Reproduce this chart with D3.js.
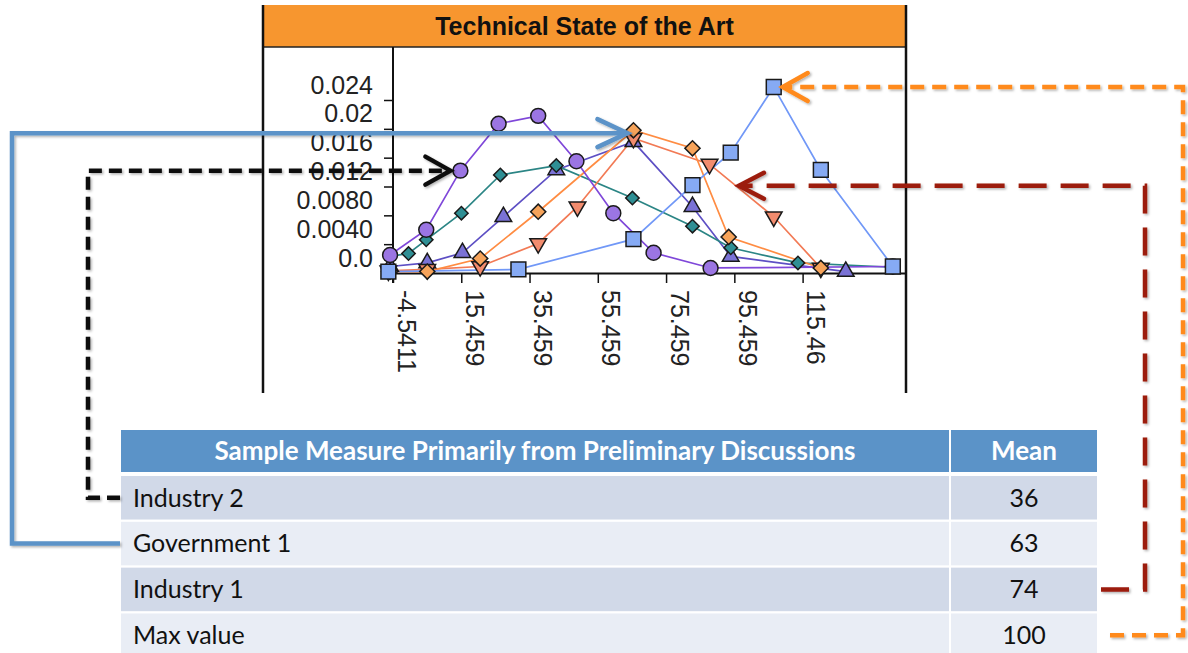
<!DOCTYPE html>
<html>
<head>
<meta charset="utf-8">
<script src="https://cdn.jsdelivr.net/npm/d3@7"></script>
<style>
  body { margin: 0; background: #fff; }
  svg { display: block; }
</style>
</head>
<body>
<div id="chart"></div>
<script>
// ---- values ----
const chartTitle = "Technical State of the Art";
const xTickValues = [-4.5411, 15.459, 35.459, 55.459, 75.459, 95.459, 115.46];
const xTickLabels = ["-4.5411", "15.459", "35.459", "55.459", "75.459", "95.459", "115.46"];
const yTickValues = [0, 0.004, 0.008, 0.012, 0.016, 0.02, 0.024];
const yTickLabels = ["0.0", "0.0040", "0.0080", "0.012", "0.016", "0.02", "0.024"];

// purple circles
const circleX = [-5.4, 5.2, 15.2, 26.4, 38.0, 49.2, 60.0, 71.8, 88.5, 141.9];
const circleY = [0.0025, 0.0060, 0.0142, 0.0207, 0.0218, 0.0155, 0.0083, 0.0028, 0.0007, 0.0009];
// teal diamonds
const tealX = [-5.4, 0.0, 5.2, 15.5, 26.9, 43.3, 65.6, 83.2, 94.4, 114.1, 141.9];
const tealY = [0.0023, 0.0027, 0.0046, 0.0083, 0.0136, 0.0149, 0.0104, 0.0065, 0.0035, 0.0014, 0.0008];
// slate triangles
const triX = [-5.4, 5.5, 15.8, 27.8, 43.3, 65.9, 83.2, 94.4, 128.1];
const triY = [0.0009, 0.0014, 0.0028, 0.0078, 0.0143, 0.0182, 0.0092, 0.0023, 0.0002];
// orange diamonds
const orangeX = [-5.4, 5.5, 21.0, 38.0, 65.9, 83.2, 93.8, 120.8];
const orangeY = [0.0002, 0.0002, 0.0020, 0.0085, 0.0198, 0.0173, 0.0050, 0.0007];
// salmon down triangles
const salmonX = [-5.9, 5.5, 21.0, 38.0, 49.5, 65.9, 88.2, 107.0, 120.8];
const salmonY = [0.0003, 0.0005, 0.0009, 0.0041, 0.0092, 0.0187, 0.0151, 0.0078, 0.0007];
// blue squares
const squareX = [-5.9, 32.2, 65.9, 83.2, 94.4, 107.0, 120.8, 141.9];
const squareY = [0.0002, 0.0005, 0.0047, 0.0122, 0.0167, 0.0258, 0.0143, 0.0009];

// table
const headerLabels = ["Sample Measure Primarily from Preliminary Discussions", "Mean"];
const rowNames = ["Industry 2", "Government 1", "Industry 1", "Max value"];
const rowMeans = [36, 63, 74, 100];
// point each row's arrow aims at (data units)
const arrowTargetX = [15.2, 65.9, 96.8, 107.0];
const arrowTargetY = [0.0142, 0.0194, 0.0121, 0.0258];

// ---- layout ----
const W = 1188, H = 653;
const panel = {left: 263, right: 906, top: 5, titleBottom: 47, bottom: 393};
const table = {left: 121, split: 950, right: 1097, headTop: 430, headBottom: 472, rowsTop: 476, rowsBottom: 657};

const svg = d3.select("#chart").append("svg")
  .attr("width", W).attr("height", H);

const defs = svg.append("defs");
defs.append("filter").attr("id", "shadow")
  .attr("x", "-5%").attr("y", "-5%").attr("width", "110%").attr("height", "110%")
  .append("feDropShadow")
    .attr("dx", 1.5).attr("dy", 1.5).attr("stdDeviation", 1.2)
    .attr("flood-color", "#000").attr("flood-opacity", 0.3);

// chart panel
svg.append("rect")
  .attr("x", panel.left).attr("y", panel.top)
  .attr("width", panel.right - panel.left).attr("height", panel.titleBottom - panel.top)
  .attr("fill", "#f7962f");
svg.append("line")
  .attr("x1", panel.left).attr("x2", panel.right)
  .attr("y1", panel.titleBottom).attr("y2", panel.titleBottom)
  .attr("stroke", "#222").attr("stroke-width", 1.5);
svg.append("text")
  .attr("x", (panel.left + panel.right) / 2).attr("y", (panel.top + panel.titleBottom) / 2)
  .attr("dy", "0.36em")
  .attr("text-anchor", "middle")
  .style("font", "bold 25px 'Liberation Sans', Arial, sans-serif")
  .attr("fill", "#111")
  .text(chartTitle);
[panel.left, panel.right].forEach(px => {
  svg.append("line")
    .attr("x1", px).attr("x2", px)
    .attr("y1", panel.top).attr("y2", panel.bottom)
    .attr("stroke", "#111").attr("stroke-width", 2.5);
});

const x = d3.scaleLinear().domain([-4.5411, 145.4589]).range([393, 905]);
const y = d3.scaleLinear().domain([0, 0.024]).range([273, 100]);

const tickFont = "25px 'Liberation Sans', Arial, sans-serif";

// y axis
svg.append("line")
  .attr("x1", x.range()[0]).attr("x2", x.range()[0])
  .attr("y1", panel.titleBottom).attr("y2", y(0) + 10)
  .attr("stroke", "#111").attr("stroke-width", 2);
const yAxis = svg.append("g")
  .attr("transform", `translate(${x.range()[0]},0)`)
  .call(d3.axisLeft(y).tickValues(yTickValues)
    .tickFormat((d, i) => yTickLabels[i])
    .tickSize(9).tickPadding(11).tickSizeOuter(0));
yAxis.select(".domain").remove();
yAxis.selectAll(".tick line").attr("stroke", "#111").attr("stroke-width", 1.5);
yAxis.selectAll(".tick text")
  .attr("transform", "translate(0,-15)")
  .attr("fill", "#222")
  .style("font", tickFont);

// x axis
const xAxis = svg.append("g")
  .attr("transform", `translate(0,${y(0)})`)
  .call(d3.axisBottom(x).tickValues(xTickValues)
    .tickFormat((d, i) => xTickLabels[i])
    .tickSize(10).tickSizeOuter(0));
xAxis.select(".domain").attr("stroke", "#111").attr("stroke-width", 2);
xAxis.selectAll(".tick line").attr("stroke", "#111").attr("stroke-width", 1.5);
xAxis.selectAll(".tick text")
  .attr("transform", "rotate(90)")
  .attr("x", 17).attr("y", -4).attr("dy", 0)
  .attr("text-anchor", "start")
  .attr("fill", "#222")
  .style("font", tickFont);

// series
const series = [
  {xs: triX,    ys: triY,    shape: d3.symbolTriangle, size: 120, rot: 0,   fill: "#7a72d6", line: "#5d4fc4"},
  {xs: tealX,   ys: tealY,   shape: d3.symbolSquare,   size: 90,  rot: 45,  fill: "#2f8f94", line: "#2b8585"},
  {xs: salmonX, ys: salmonY, shape: d3.symbolTriangle, size: 120, rot: 180, fill: "#f28c6e", line: "#f27a55"},
  {xs: orangeX, ys: orangeY, shape: d3.symbolSquare,   size: 115, rot: 45,  fill: "#f6a35a", line: "#ff8c42"},
  {xs: circleX, ys: circleY, shape: d3.symbolCircle,   size: 175, rot: 0,   fill: "#9b75e3", line: "#7f47d9"},
  {xs: squareX, ys: squareY, shape: d3.symbolSquare,   size: 220, rot: 0,   fill: "#86aaf4", line: "#7198f7"}
];
series.forEach(s => { s.pts = s.xs.map((v, i) => [v, s.ys[i]]); });

const lineGen = d3.line().x(d => x(d[0])).y(d => y(d[1]));
svg.append("g").selectAll("path")
  .data(series).join("path")
    .attr("d", s => lineGen(s.pts))
    .attr("fill", "none")
    .attr("stroke", s => s.line)
    .attr("stroke-width", 1.7);

series.forEach(s => {
  svg.append("g").selectAll("path")
    .data(s.pts).join("path")
      .attr("d", d3.symbol().type(s.shape).size(s.size))
      .attr("transform", d => `translate(${x(d[0])},${y(d[1])}) rotate(${s.rot})`)
      .attr("fill", s.fill)
      .attr("stroke", "#1a1a1a")
      .attr("stroke-width", 1.5);
});

// table
const rowBand = d3.scaleBand().domain(rowNames)
  .range([table.rowsTop, table.rowsBottom]).paddingInner(0.05);
const cols = [[table.left, table.split - 1], [table.split + 1, table.right]];

const tbl = svg.append("g");
cols.forEach((c, ci) => {
  tbl.append("rect")
    .attr("x", c[0]).attr("y", table.headTop)
    .attr("width", c[1] - c[0]).attr("height", table.headBottom - table.headTop)
    .attr("fill", "#5b93c8");
  tbl.append("text")
    .attr("x", (c[0] + c[1]) / 2).attr("y", (table.headTop + table.headBottom) / 2)
    .attr("dy", "0.35em").attr("text-anchor", "middle")
    .attr("fill", "#fff")
    .style("font", "bold 26px Lato, 'Open Sans', sans-serif")
    .text(headerLabels[ci]);
});

rowNames.forEach((name, i) => {
  const y0 = rowBand(name), bh = rowBand.bandwidth();
  cols.forEach(c => {
    tbl.append("rect")
      .attr("x", c[0]).attr("y", y0)
      .attr("width", c[1] - c[0]).attr("height", bh)
      .attr("fill", i % 2 === 0 ? "#d1d9e8" : "#e9edf5");
  });
  tbl.append("text")
    .attr("x", table.left + 12).attr("y", y0 + bh / 2)
    .attr("dy", "0.35em")
    .attr("fill", "#111")
    .style("font", "25px Lato, 'Open Sans', sans-serif")
    .text(name);
  tbl.append("text")
    .attr("x", (cols[1][0] + cols[1][1]) / 2).attr("y", y0 + bh / 2)
    .attr("dy", "0.35em").attr("text-anchor", "middle")
    .attr("fill", "#111")
    .style("font", "25px Lato, 'Open Sans', sans-serif")
    .text(rowMeans[i]);
});

// connectors from table rows to the curves
const connectors = [
  {side: "left",  bendX: 88,   gap: 10, color: "#111",    dash: "13,7",  arm: [25, 14]},
  {side: "left",  bendX: 12,   gap: 6,  color: "#5b93c8", dash: null,    arm: [30, 14]},
  {side: "right", bendX: 1145, gap: 0,  color: "#9c1c0d", dash: "28,14", arm: [25, 13]},
  {side: "right", bendX: 1183, gap: 9,  color: "#ff8a1c", dash: "14,8",  arm: [25, 14]}
];

const conn = svg.append("g").attr("filter", "url(#shadow)");
connectors.forEach((c, i) => {
  const rowY = rowBand(rowNames[i]) + rowBand.bandwidth() / 2;
  const dir = c.side === "left" ? 1 : -1;   // arrow points right for left-side routes
  const startX = c.side === "left" ? table.left - 1 : table.right + 4 + (i === 3 ? 9 : 0);
  const tipX = x(arrowTargetX[i]) - dir * c.gap;
  const tipY = y(arrowTargetY[i]);
  const route = [[startX, rowY], [c.bendX, rowY], [c.bendX, tipY], [tipX - dir * 3, tipY]];
  conn.append("path")
    .attr("d", d3.line()(route))
    .attr("fill", "none")
    .attr("stroke", c.color)
    .attr("stroke-width", 4.5)
    .attr("stroke-dasharray", c.dash);
  conn.append("path")
    .attr("d", d3.line()([[tipX - dir * c.arm[0], tipY - c.arm[1]], [tipX, tipY], [tipX - dir * c.arm[0], tipY + c.arm[1]]]))
    .attr("fill", "none")
    .attr("stroke", c.color)
    .attr("stroke-width", 4.5)
    .attr("stroke-linecap", "round")
    .attr("stroke-linejoin", "miter");
});
</script>
</body>
</html>
